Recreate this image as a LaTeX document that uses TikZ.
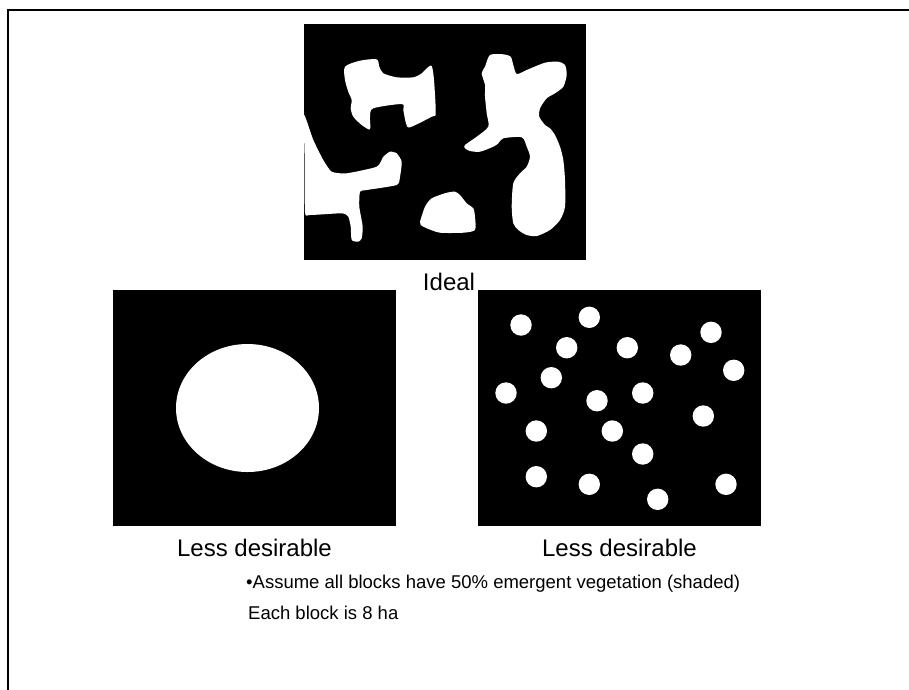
\documentclass[tikz,border=0pt]{standalone}
\usepackage{fontspec}
\setmainfont{Liberation Sans}
\begin{document}
\begin{tikzpicture}[x=1pt,y=-1pt,
  blk/.style={fill=black,draw=none,inner sep=0pt,outer sep=0pt},
  hole/.style={fill=white,draw=none},
  dot/.style={circle,fill=white,draw=none,minimum size=21.4pt,inner sep=0pt},
  big/.style={inner sep=0pt,font=\fontsize{24}{28}\selectfont},
  small/.style={inner sep=0pt,anchor=base west,font=\fontsize{18.5}{22}\selectfont},
  frame/.style={line width=2pt,line cap=rect}]
\useasboundingbox (0,0) rectangle (909,689);
% frame
\coordinate (ftl) at (7.5,9.5);
\coordinate (ftr) at (912,9.5);
\coordinate (fbl) at (7.5,692);
\draw[frame] (ftr) -- (ftl) -- (fbl);
% ideal block
\node[blk,minimum width=282pt,minimum height=236pt] (ideal) at (445,142) {};
\fill[hole] plot[smooth cycle,tension=0.45] coordinates {(345,66.7) (360,60.7) (376.7,59.3) (379.3,66.7) (383.3,73.3) (396.7,77.3) (413.3,77.3) (421.7,73.3) (426.7,68.3) (431.7,66) (434,80) (435.7,113.3) (431.7,116.7) (410,127.3) (406,123.3) (403.3,110) (401.7,104) (373.3,108.3) (370,116.7) (370,129.3) (361.7,125) (353.3,116.7) (350.7,108.3) (351.7,100) (348.3,91.7) (345,80)};
\fill[hole] plot[smooth cycle,tension=0.35] coordinates {(304,115) (313.3,140) (323.3,160) (331.7,171.7) (346.7,173.3) (376.7,166.7) (383.3,156.7) (390,151.7) (396.7,153.3) (401.7,161.7) (400,176.7) (396.7,185) (366.7,190) (360,191.7) (359.3,206.7) (362.7,226.7) (361.7,238.3) (358.3,241.7) (351.7,240) (350.7,226.7) (348.3,216.7) (341.7,213.3) (310,215) (305,212) (304.5,153.3)};
\fill[hole] plot[smooth cycle,tension=0.4] coordinates {(420,221.7) (425,206.7) (431.7,198.3) (446.7,192.7) (455,191.7) (460,195) (466.7,203.3) (473.3,208.3) (475,216.7) (475,230) (463.3,232.7) (440,232.7) (426.7,228.3) (420.7,225)};
\fill[hole] plot[smooth cycle,tension=0.45] coordinates {(490,55) (503.3,54.3) (510.7,56.7) (513.3,65) (516.7,74) (526.7,70) (545,62.7) (558.3,61.7) (565,65) (566.7,75) (563.3,86.7) (555,93.3) (546.7,98.3) (540,108.3) (539.3,116.7) (545,125) (550,128.3) (555,135) (560,146.7) (563.3,160) (565,180) (565,206.7) (560,220) (550,230) (536.7,236) (526.7,235) (518.3,230) (513.3,223.3) (511.7,206.7) (513.3,183.3) (520,173.3) (526.7,166.7) (530,156.7) (526.7,146.7) (521.7,137.3) (503.3,138.3) (498.3,143.3) (493.3,146.7) (480,151.7) (470,151) (465,148.3) (465,145) (476.7,136.7) (488.3,126.7) (486.7,113.3) (485,96.7) (485,85) (481.7,73.3) (485,66.7)};
\node[big,anchor=base] (lideal) at (449,290) {Ideal};
% left block
\node[blk,minimum width=283pt,minimum height=236pt] (lblock) at (254.5,408) {};
\fill[hole] (247.5,408) ellipse [x radius=71.5, y radius=64];
\node[big,anchor=base] (lless) at (254.5,556) {Less desirable};
% right block
\node[blk,minimum width=283pt,minimum height=236pt] (rblock) at (619.5,408) {};
\foreach \i/\x/\y in {1/521/325,2/589.3/317.3,3/566.7/347.7,4/627.3/347.7,5/680.7/355,6/711/332.3,7/733.7/370.3,8/551.3/377.7,9/506/393,10/597/400.7,11/642.7/393,12/703.3/416,13/536.3/431,14/612.3/431,15/642.7/454,16/536.3/476.7,17/589.3/484.3,18/657.7/499.3,19/726/484.3}
  \node[dot] (d\i) at (\x,\y) {};
\node[big,anchor=base] (rless) at (619.5,556) {Less desirable};
% notes
\node[small] (note1) at (246,588) {•Assume all blocks have 50\% emergent vegetation (shaded)};
\node[small] (note2) at (248,619) {Each block is 8 ha};
\end{tikzpicture}
\end{document}
